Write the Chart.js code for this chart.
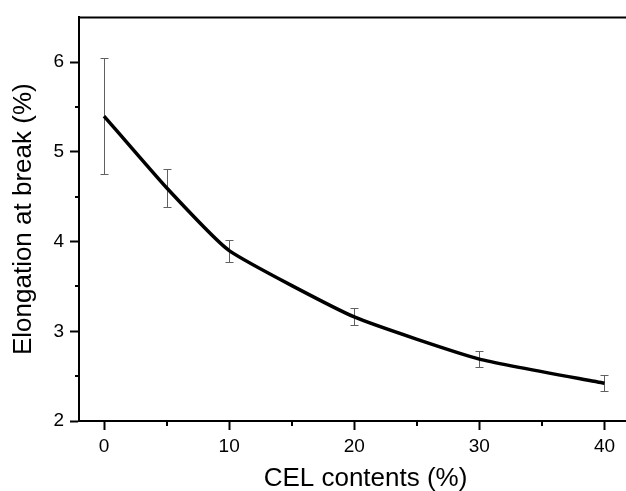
<!DOCTYPE html>
<html>
<head>
<meta charset="utf-8">
<script src="https://cdn.jsdelivr.net/npm/chart.js@4"></script>
<style>
html,body{margin:0;padding:0;background:#fff;overflow:hidden;}
#wrap{width:652px;height:491px;}
</style>
</head>
<body>
<div id="wrap"><canvas id="c" width="652" height="491"></canvas></div>
<script>
const celContents = [0, 5, 10, 20, 30, 40];
const elongation = [5.40, 4.60, 3.90, 3.16, 2.69, 2.42];
const errUpper = [6.05, 4.81, 4.02, 3.26, 2.78, 2.51];
const errLower = [4.75, 4.39, 3.77, 3.07, 2.60, 2.33];
const xMajorTicks = [0, 10, 20, 30, 40];
const xMinorTicks = [5, 15, 25, 35];
const yMajorTicks = [2, 3, 4, 5, 6];
const yMinorTicks = [2.5, 3.5, 4.5, 5.5];
const xTitle = 'CEL contents (%)';
const yTitle = 'Elongation at break (%)';

const FONT = '"Liberation Sans", Arial, sans-serif';

const extras = {
  id: 'extras',
  beforeDatasetsDraw(chart) {
    const ctx = chart.ctx, xs = chart.scales.x, ys = chart.scales.y;
    ctx.save();
    ctx.strokeStyle = '#606060';
    ctx.lineWidth = 1;
    celContents.forEach((c, i) => {
      const px = Math.round(xs.getPixelForValue(c)) + 0.5;
      const yu = Math.round(ys.getPixelForValue(errUpper[i])) + 0.5;
      const yl = Math.round(ys.getPixelForValue(errLower[i])) + 0.5;
      ctx.beginPath();
      ctx.moveTo(px, yu); ctx.lineTo(px, yl);
      ctx.moveTo(px - 4, yu); ctx.lineTo(px + 4, yu);
      ctx.moveTo(px - 4, yl); ctx.lineTo(px + 4, yl);
      ctx.stroke();
    });
    ctx.restore();
  },
  afterDraw(chart) {
    const ctx = chart.ctx, xs = chart.scales.x, ys = chart.scales.y, a = chart.chartArea;
    ctx.save();
    ctx.strokeStyle = '#000';
    ctx.lineWidth = 2;
    xMinorTicks.forEach(v => {
      const px = Math.round(xs.getPixelForValue(v));
      ctx.beginPath(); ctx.moveTo(px, a.bottom); ctx.lineTo(px, a.bottom + 5); ctx.stroke();
    });
    yMinorTicks.forEach(v => {
      const py = Math.round(ys.getPixelForValue(v));
      ctx.beginPath(); ctx.moveTo(a.left, py); ctx.lineTo(a.left - 4, py); ctx.stroke();
    });
    ctx.beginPath(); ctx.moveTo(a.left - 1, a.top); ctx.lineTo(a.right, a.top); ctx.stroke();
    ctx.restore();
  }
};

new Chart(document.getElementById('c'), {
  type: 'line',
  data: {
    datasets: [{
      data: celContents.map((c, i) => ({x: c, y: elongation[i]})),
      borderColor: '#000',
      borderWidth: 3.5,
      pointRadius: 0,
      tension: 0.15,
      fill: false
    }]
  },
  options: {
    responsive: false,
    animation: false,
    events: [],
    layout: {padding: {top: 12, right: 0, bottom: 0, left: 0}},
    plugins: {legend: {display: false}, tooltip: {enabled: false}},
    scales: {
      x: {
        type: 'linear',
        min: -2, max: 43.8,
        afterBuildTicks: s => { s.ticks = xMajorTicks.map(v => ({value: v})); },
        afterFit: s => { s.height = 70; },
        grid: {drawOnChartArea: false, tickLength: 9, tickColor: '#000', tickWidth: 2},
        border: {color: '#000', width: 2},
        ticks: {color: '#000', font: {family: FONT, size: 19}, padding: 5, maxRotation: 0,
          callback: v => String(v)},
        title: {display: true, text: xTitle, color: '#000', font: {family: FONT, size: 26, lineHeight: 0.9}, padding: {top: 0, bottom: 0}}
      },
      y: {
        type: 'linear',
        min: 2, max: 6.5,
        afterBuildTicks: s => { s.ticks = yMajorTicks.map(v => ({value: v})); },
        afterFit: s => { s.width = 79; },
        grid: {drawOnChartArea: false, tickLength: 9, tickColor: '#000', tickWidth: 2},
        border: {color: '#000', width: 2},
        ticks: {color: '#000', font: {family: FONT, size: 19}, padding: 6,
          callback: v => String(v)},
        title: {display: true, text: yTitle, color: '#000', font: {family: FONT, size: 26}, padding: {top: 8, bottom: 0}}
      }
    }
  },
  plugins: [extras]
});
</script>
</body>
</html>
